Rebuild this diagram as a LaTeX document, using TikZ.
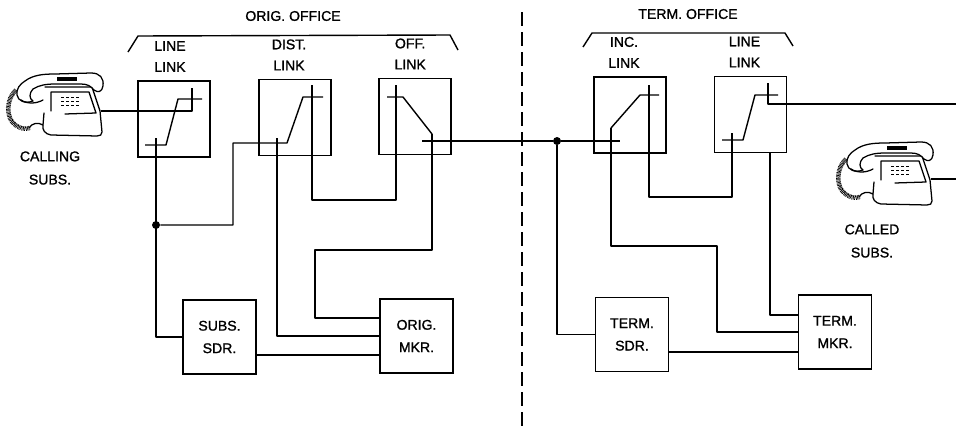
\documentclass[tikz,border=0pt]{standalone}
\usepackage{fontspec}
\setmainfont{Liberation Sans}[FakeBold=1.2,AutoFakeBold=1.2]
\usepackage{tikz}
\usetikzlibrary{positioning}
\tikzset{
  wire/.style={draw=black, line width=1pt, line join=round},
  linkbox/.style={draw, line width=1.2pt, minimum width=18mm, minimum height=19mm, inner sep=0pt},
  ctrlbox/.style={draw, line width=1.2pt, minimum width=18.25mm, minimum height=18.5mm, inner sep=0pt, align=center, font=\bfseries\fontsize{10}{16}\selectfont},
  lab/.style={align=center, inner sep=0pt, font=\bfseries\fontsize{10}{15}\selectfont},
  subcap/.style={align=center, inner sep=0pt, font=\bfseries\fontsize{10}{16.5}\selectfont},
  head/.style={inner sep=0pt, font=\bfseries\fontsize{10}{12}\selectfont},
  dot/.style={circle, fill=black, inner sep=2pt},
  divider/.style={draw, line width=1pt, dash pattern=on 3.5mm off 1.5mm},
  phoneline/.style={line width=0.9pt, line join=round, line cap=round},
  cordcoil/.style={line width=3.2pt, dash pattern=on 0.5pt off 0.5pt},
  telephone/.pic={
    % base
    \draw[phoneline] (40,14) -- (87,14) -- (95,38) -- (97,59)
      .. controls (97,62) and (95,63) .. (92,63) -- (46,62)
      .. controls (40,61) and (37,57) .. (38,52) -- (39,40);
    \draw[phoneline] (38,52) .. controls (33,49) and (27,50) .. (24,55);
    \draw[phoneline] (46,38) -- (46,19) -- (84,19) -- (91,40) -- (60,41);
    \foreach \kx in {0,...,3}
      \foreach \ky in {0,1,2}
        \fill (56+5*\kx,24+4*\ky) rectangle ++(2.6,1.4);
    % handset
    \filldraw[phoneline, fill=white] (20,8) .. controls (28,2) and (38,1) .. (50,1) -- (86,0)
      .. controls (95,0) and (99,5) .. (98,13) .. controls (97,19) and (93,20) .. (89,17)
      .. controls (86,13) and (82,11) .. (76,11) -- (50,11)
      .. controls (42,11) and (34,12) .. (28,16)
      .. controls (24,20) and (24,26) .. (28,28)
      .. controls (20,31) and (13,28) .. (12,22)
      .. controls (11,16) and (15,11) .. (20,8) -- cycle;
    \fill (52,4) rectangle (72,7.5);
    \draw[phoneline] (16,27) .. controls (22,31) and (31,31) .. (38,27);
    % cord
    \draw[cordcoil] (11,17) .. controls (1,26) and (1,44) .. (9,51) .. controls (14,55) and (19,57) .. (25,55);
  }
}

\begin{document}
\begin{tikzpicture}[x=0.25mm, y=-0.25mm]
\useasboundingbox (0,0) rectangle (956,429);

% offices
\node[head] (origoff) at (293,16) {ORIG. OFFICE};
\node[head] (termoff) at (688,14) {TERM. OFFICE};
\draw[wire] (128,52) -- (138,36) -- (450,35) -- (458,50);
\draw[wire] (583,47) -- (592,33) -- (785,33) -- (793,46);
\draw[divider] (522,12) -- (522,429);

% link frames
\node[linkbox] (LL) at (174,119) {};
\node[linkbox] (DL) at (295,117.5) {};
\node[linkbox] (OL) at (415,116.5) {};
\node[linkbox] (IL) at (630,115) {};
\node[linkbox] (TL) at (750.5,114.5) {};
\node[lab, above=2mm of LL, xshift=-1mm] (LLlab) {LINE\\LINK};
\node[lab, above=2mm of DL, xshift=-1.5mm] (DLlab) {DIST.\\LINK};
\node[lab, above=2mm of OL, xshift=-1.2mm] (OLlab) {OFF.\\LINK};
\node[lab, above=2mm of IL, xshift=-1.5mm] (ILlab) {INC.\\LINK};
\node[lab, above=2mm of TL, xshift=-1.5mm] (TLlab) {LINE\\LINK};

% senders and markers
\node[ctrlbox] (SS) at (219.5,337) {SUBS.\\SDR.};
\node[ctrlbox] (OM) at (416.5,336) {ORIG.\\MKR.};
\node[ctrlbox] (TS) at (632,334.5) {TERM.\\SDR.};
\node[ctrlbox] (TM) at (835,332) {TERM.\\MKR.};

% subscribers
\pic at (5,73) {telephone};
\pic at (835,142) {telephone};
\node[subcap] (callcap) at (50,168) {CALLING\\SUBS.};
\node[subcap] (calledcap) at (872,241) {CALLED\\SUBS.};
\coordinate (callcord) at (101,111);
\coordinate (calledcord) at (931,179);
\coordinate (edgeA) at (956,104);
\coordinate (edgeB) at (956,179);

% crosspoint ends
\coordinate (ll1t) at (156,138);
\coordinate (ll2t) at (192,88);
\coordinate (dl1t) at (277,138);
\coordinate (dl2t) at (312,85);
\coordinate (ol1t) at (396,85);
\coordinate (ol2t) at (432,134);
\coordinate (il1t) at (611,128);
\coordinate (il2t) at (649,85);
\coordinate (tl1t) at (732,133);
\coordinate (tl2t) at (768,83);
\coordinate (sdrO) at (0,355);
\coordinate (sdrT) at (0,352);

% switches
\draw[wire] (145,145) -- (166,145) -- (178,99) -- (202,99);
\draw[wire] (387,97) -- (403,97) -- (ol2t);
\draw[wire] (il1t) -- (640,95) -- (659,95);
\draw[wire] (722,140) -- (743,140) -- (755,95) -- (778,95);

% orig. office wiring
\node[dot] (j1) at (156,225) {};
\node[dot] (j2) at (557,141) {};
\draw[wire] (callcord) -- (192,111) -- (ll2t);
\draw[wire] (ll1t) |- (SS.west);
\draw[wire] (j1) -- (233,225) -- (233,143) -- (287,143) -- (303,97) -- (323,97);
\draw[wire] (dl1t) |- (OM.west);
\draw[wire] (dl2t) -- (312,200) -- (396,200) -- (ol1t);
\draw[wire] (ol2t) -- (432,250) -- (315,250) |- ([yshift=4.5mm]OM.west);
\draw[wire] (SS.east |- sdrO) -- (OM.west |- sdrO);

% trunk and term. office wiring
\draw[wire] (422,141) -- (j2) -- (620,141);
\draw[wire] (j2) |- (TS.west);
\draw[wire] (il1t) -- (611,246) -- (717,246) |- (TM.west);
\draw[wire] (il2t) -- (649,197) -- (732,197) -- (tl1t);
\draw[wire] (TL.south -| 770,0) |- ([yshift=4.25mm]TM.west);
\draw[wire] (TS.east |- sdrT) -- (TM.west |- sdrT);
\draw[wire] (tl2t) -- (768,104) -- (edgeA);
\draw[wire] (calledcord) -- (edgeB);
\end{tikzpicture}
\end{document}
